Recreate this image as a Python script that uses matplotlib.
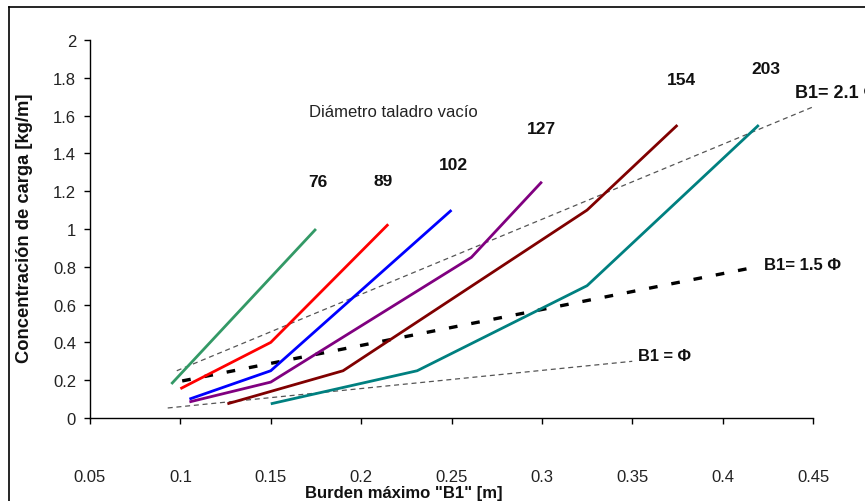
import matplotlib
matplotlib.use("Agg")
import matplotlib.pyplot as plt
from matplotlib.lines import Line2D
from matplotlib.transforms import Bbox, TransformedBbox

plt.rcParams['font.family'] = ['Liberation Sans', 'DejaVu Sans']

# Charge concentration curves for each empty-hole diameter (mm)
x_76 = [0.095, 0.175]
y_76 = [0.18, 1.00]

x_89 = [0.100, 0.150, 0.215]
y_89 = [0.155, 0.40, 1.025]

x_102 = [0.105, 0.150, 0.250]
y_102 = [0.10, 0.25, 1.10]

x_127 = [0.105, 0.150, 0.261, 0.300]
y_127 = [0.085, 0.19, 0.85, 1.25]

x_154 = [0.126, 0.190, 0.325, 0.375]
y_154 = [0.075, 0.25, 1.10, 1.55]

x_203 = [0.150, 0.231, 0.325, 0.420]
y_203 = [0.075, 0.25, 0.70, 1.55]

# Reference burden lines
x_b1 = [0.093, 0.350]
y_b1 = [0.053, 0.300]
x_b15 = [0.101, 0.419]
y_b15 = [0.196, 0.800]
x_b21 = [0.098, 0.451]
y_b21 = [0.250, 1.650]

x_ticks = [0.05, 0.1, 0.15, 0.2, 0.25, 0.3, 0.35, 0.4, 0.45]
x_tick_labels = ["0.05", "0.1", "0.15", "0.2", "0.25", "0.3", "0.35", "0.4", "0.45"]
y_ticks = [0, 0.2, 0.4, 0.6, 0.8, 1, 1.2, 1.4, 1.6, 1.8, 2]
y_tick_labels = ["0", "0.2", "0.4", "0.6", "0.8", "1", "1.2", "1.4", "1.6", "1.8", "2"]

W, H = 865, 502
fig = plt.figure(figsize=(W / 100, H / 100), dpi=100)
ax = fig.add_axes([90 / W, (H - 419) / H, (813 - 90) / W, (419 - 41) / H])

ax.plot(x_b1, y_b1, color='#555555', lw=0.9, dashes=(4, 3))
ax.plot(x_b21, y_b21, color='#555555', lw=0.9, dashes=(4, 3))
ax.plot(x_b15, y_b15, color='black', lw=2.4, dashes=(2.6, 4.2))

lw = 2.0
ax.plot(x_76, y_76, color='#339966', lw=lw, solid_capstyle='butt')
ax.plot(x_89, y_89, color='#ff0000', lw=lw, solid_capstyle='butt')
ax.plot(x_102, y_102, color='#0000ff', lw=lw, solid_capstyle='butt')
ax.plot(x_127, y_127, color='#800080', lw=lw, solid_capstyle='butt')
ax.plot(x_154, y_154, color='#800000', lw=lw, solid_capstyle='butt')
ax.plot(x_203, y_203, color='#008080', lw=lw, solid_capstyle='butt')

ax.set_xlim(0.05, 0.45)
ax.set_ylim(0, 2)
ax.set_xticks(x_ticks)
ax.set_xticklabels(x_tick_labels)
ax.set_yticks(y_ticks)
ax.set_yticklabels(y_tick_labels)
for s in ('top', 'right'):
    ax.spines[s].set_visible(False)
for s in ('left', 'bottom'):
    ax.spines[s].set_linewidth(1.0)
    ax.spines[s].set_color('black')
ax.tick_params(axis='both', direction='out', length=4, width=1.0,
               labelsize=12, labelcolor='#222222')
ax.tick_params(axis='x', pad=33)
ax.tick_params(axis='y', pad=6)

# Annotations
ax.text(0.171, 1.62, "Diámetro taladro vacío", fontsize=12, ha='left', va='center',
        color='#222222')
bold = dict(fontsize=12.5, fontweight='bold', ha='center', va='center', color='#111111')
ax.text(0.176, 1.25, "76", **bold)
t89 = ax.text(0.212, 1.255, "89", **bold)
t89.set_clip_box(TransformedBbox(Bbox([[0.0, 0.0], [0.5, 1.285]]), ax.transData))
t89.set_clip_on(True)
ax.text(0.251, 1.34, "102", **bold)
ax.text(0.300, 1.53, "127", **bold)
ax.text(0.377, 1.79, "154", **bold)
ax.text(0.424, 1.85, "203", **bold)

lab = dict(fontweight='bold', ha='left', va='center', color='#111111')
ax.text(0.440, 1.72, "B1= 2.1 Φ", fontsize=13, clip_on=False, **lab)
ax.text(0.423, 0.81, "B1= 1.5 Φ", fontsize=12, clip_on=False, **lab)
ax.text(0.353, 0.33, "B1 = Φ", fontsize=11.8, **lab)

fig.text(25 / W, 1 - 228 / H, "Concentración de carga [kg/m]", rotation=90,
         fontsize=13.2, fontweight='bold', ha='center', va='center', color='#111111')
fig.text(404 / W, 1 - 494 / H, 'Burden máximo "B1" [m]',
         fontsize=12, fontweight='bold', ha='center', va='center', color='#111111')

# Outer frame (left and top edges)
fig.add_artist(Line2D([9 / W, 9 / W], [0, 1 - 8 / H], transform=fig.transFigure,
                      color='black', lw=1.2))
fig.add_artist(Line2D([9 / W, 1], [1 - 8 / H, 1 - 8 / H], transform=fig.transFigure,
                      color='black', lw=1.2))

fig.savefig("out.png", dpi=100)
